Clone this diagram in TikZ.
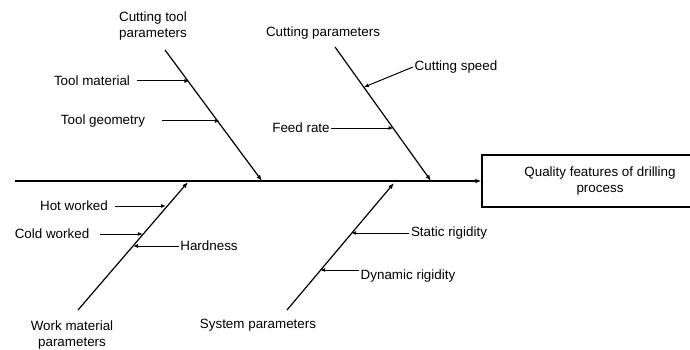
\documentclass[tikz,border=0pt]{standalone}
\usepackage{fontspec}
\setmainfont{Liberation Sans}
\usetikzlibrary{arrows.meta,calc}
\begin{document}
\begin{tikzpicture}[x=1pt,y=-1pt,
  lbl/.style={inner sep=1.5pt,font=\fontsize{13.4}{16.5}\selectfont,align=center},
  bone/.style={line width=1.2pt,-{Latex[length=6pt,width=4.5pt]}},
  sub/.style={line width=1pt,-{Latex[length=5pt,width=4pt]}},
  effect/.style={draw,line width=1.3pt,minimum width=236pt,minimum height=52pt,inner sep=0pt,font=\fontsize{13.4}{16.5}\selectfont,align=center}]
\useasboundingbox (0,0) rectangle (690,350);
% effect box
\node[effect] (eff) at (600,181) {Quality features of drilling\\process};
% spine
\coordinate (s0) at (15,181);
\draw[line width=1.4pt,-{Latex[length=6pt,width=4.5pt]}] (s0) -- (eff.west);
% branch endpoints
\coordinate (ctT) at (165,50);  \coordinate (ctB) at (262,181);
\coordinate (cpT) at (335,47);  \coordinate (cpB) at (431,181);
\coordinate (wmB) at (78,310);  \coordinate (wmT) at (188,182);
\coordinate (spB) at (287,310); \coordinate (spT) at (394,183);
\draw[bone] (ctT) -- (ctB);
\draw[bone] (cpT) -- (cpB);
\draw[bone] (wmB) -- (wmT);
\draw[bone] (spB) -- (spT);
% cause labels
\node[lbl] (ct) at (153,26) {Cutting tool\\parameters};
\node[lbl] (cp) at (323,33) {Cutting parameters};
\node[lbl] (wm) at (72,335) {Work material\\parameters};
\node[lbl] (sp) at (258,325) {System parameters};
% sub-cause labels
\node[lbl] (tm) at (92,81) {Tool material};
\node[lbl] (tg) at (103,121) {Tool geometry};
\node[lbl] (cs) at (456,67) {Cutting speed};
\node[lbl] (fr) at (301,128) {Feed rate};
\node[lbl] (hw) at (74,206) {Hot worked};
\node[lbl] (cw) at (52,234) {Cold worked};
\node[lbl] (hd) at (209,246) {Hardness};
\node[lbl] (sr) at (449,233) {Static rigidity};
\node[lbl] (dr) at (408,276) {Dynamic rigidity};
% tips on the bones
\coordinate (tmX) at ($(ctT)!0.252!(ctB)$);
\coordinate (tgX) at ($(ctT)!0.565!(ctB)$);
\coordinate (csX) at ($(cpT)!0.30!(cpB)$);
\coordinate (frX) at ($(cpT)!0.61!(cpB)$);
\coordinate (hwX) at ($(wmB)!0.80!(wmT)$);
\coordinate (cwX) at ($(wmB)!0.59!(wmT)$);
\coordinate (hdX) at ($(wmB)!0.50!(wmT)$);
\coordinate (srX) at ($(spB)!0.60!(spT)$);
\coordinate (drX) at ($(spB)!0.31!(spT)$);
% sub arrows
\draw[sub,shorten <=5pt] (tm.east) -- (tm.east -| tmX);
\draw[sub,shorten <=15pt] (tg.east) -- (tg.east -| tgX);
\draw[sub] (cs.west) -- (csX);
\draw[sub] (fr.east) -- (fr.east -| frX);
\draw[sub,shorten <=5pt] (hw.east) -- (hw.east -| hwX);
\draw[sub,shorten <=9pt] (cw.east) -- (cw.east -| cwX);
\draw[sub] (hd.west) -- (hd.west -| hdX);
\draw[sub] (sr.west) -- (sr.west -| srX);
\draw[sub] ($(dr.west)+(0,-6)$) coordinate (drS) -- (drS -| drX);
\end{tikzpicture}
\end{document}
